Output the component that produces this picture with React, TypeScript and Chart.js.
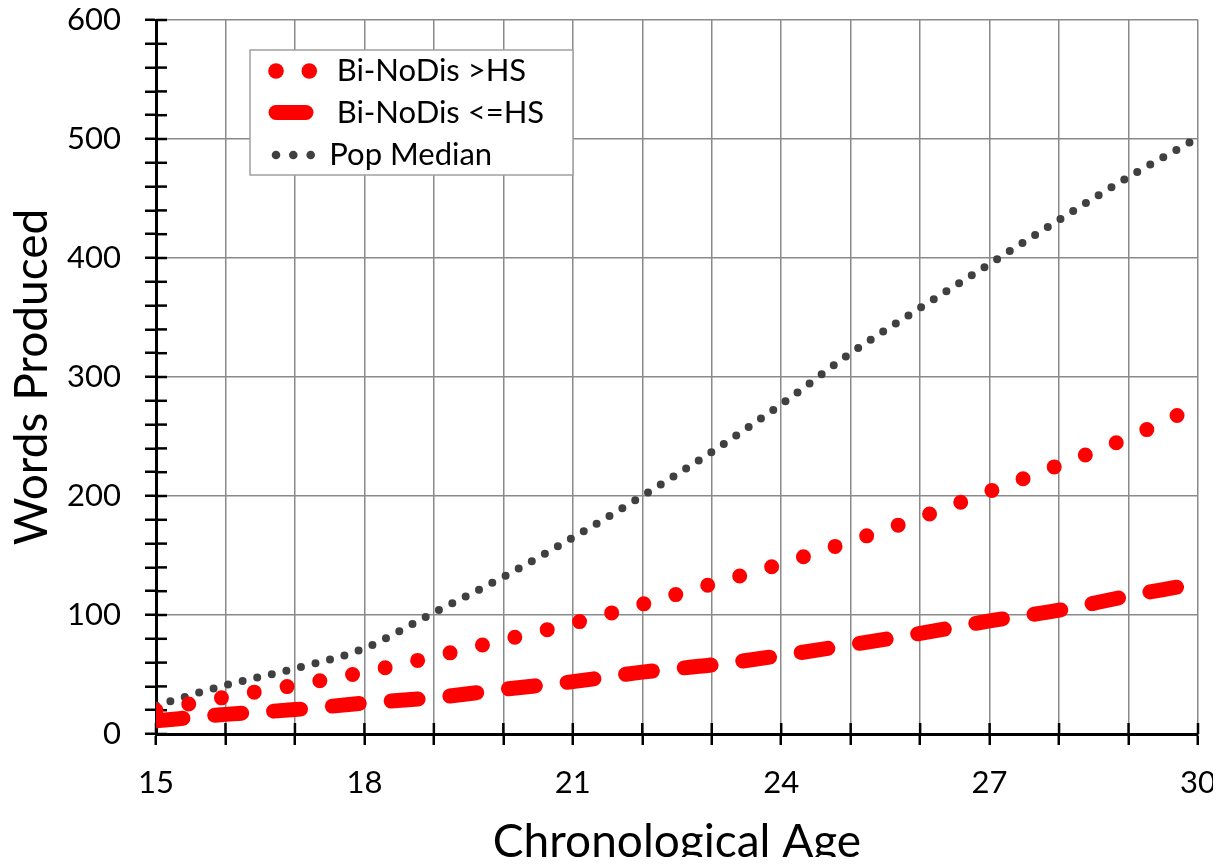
import React, { useEffect, useRef } from 'react';
import { Chart, registerables } from 'chart.js';

Chart.register(...registerables);

// ---- Data ----
const popAges = [15, 16, 17, 18, 19, 20, 21, 22, 23, 24, 25, 26, 27, 28, 29, 30];
const popMedian = [24, 41, 55, 72, 102, 132, 165, 200, 237, 277, 320, 358, 395, 432, 468, 501];

const hsAges = [15, 16, 17, 18, 19, 20, 21, 22, 23, 24, 25, 26, 27, 28, 29, 29.75];
const aboveHS = [20, 31, 41, 52, 65, 79, 93, 109, 126, 143, 162, 182, 204, 226, 249, 269];
const belowHS = [11, 16.5, 20.5, 26, 30.5, 37.5, 44, 52, 58, 66, 75, 84.5, 95, 104, 116, 124];

const seriesNames = ['Bi-NoDis >HS', 'Bi-NoDis <=HS', 'Pop Median'];
const xTickLabels = [15, 18, 21, 24, 27, 30];
const yTickLabels = [0, 100, 200, 300, 400, 500, 600];
const xTitle = 'Chronological Age';
const yTitle = 'Words Produced';

const FONT = 'Lato';
const RED = '#FF0000';
const GRAY_DOT = '#404040';
const GRID = '#8a8a8a';

const W = 1205;
const H = 857;

const toPoints = (xs: number[], ys: number[]) => xs.map((x, i) => ({ x, y: ys[i] }));

const innerTicks = {
  id: 'innerTicks',
  beforeDatasetsDraw(chart: any) {
    const { ctx, chartArea, scales } = chart;
    ctx.save();
    ctx.strokeStyle = '#000';
    ctx.lineWidth = 2.5;
    scales.y.ticks.forEach((t: any) => {
      const py = scales.y.getPixelForValue(t.value);
      ctx.beginPath();
      ctx.moveTo(chartArea.left, py);
      ctx.lineTo(chartArea.left + 11, py);
      ctx.stroke();
    });
    scales.x.ticks.forEach((t: any) => {
      const px = scales.x.getPixelForValue(t.value);
      ctx.beginPath();
      ctx.moveTo(px, chartArea.bottom);
      ctx.lineTo(px, chartArea.bottom - 11);
      ctx.stroke();
    });
    ctx.restore();
  },
};

const boxLegend = {
  id: 'boxLegend',
  afterDatasetsDraw(chart: any) {
    const { ctx } = chart;
    const ds = chart.data.datasets;
    const left = 242, top = 42, right = 565, bottom = 167;
    ctx.save();
    ctx.fillStyle = '#fff';
    ctx.fillRect(left, top, right - left, bottom - top);
    ctx.strokeStyle = '#a0a0a0';
    ctx.lineWidth = 1.5;
    ctx.strokeRect(left, top, right - left, bottom - top);

    const rows = [63, 104.5, 147];
    ctx.fillStyle = ds[0].borderColor;
    [268, 301.3].forEach((cx) => {
      ctx.beginPath();
      ctx.arc(cx, rows[0], 7.8, 0, Math.PI * 2);
      ctx.fill();
    });
    ctx.strokeStyle = ds[1].borderColor;
    ctx.lineWidth = 15;
    ctx.lineCap = 'round';
    ctx.beginPath();
    ctx.moveTo(268, rows[1]);
    ctx.lineTo(298, rows[1]);
    ctx.stroke();
    ctx.fillStyle = ds[2].borderColor;
    [268, 285.3, 302.7].forEach((cx) => {
      ctx.beginPath();
      ctx.arc(cx, rows[2], 4.3, 0, Math.PI * 2);
      ctx.fill();
    });

    ctx.fillStyle = '#000';
    ctx.font = `31px ${FONT}`;
    ctx.textBaseline = 'middle';
    ctx.textAlign = 'left';
    ctx.fillText(ds[0].label, 328.7, rows[0]);
    ctx.fillText(ds[1].label, 328.7, rows[1]);
    ctx.fillText(ds[2].label, 321.3, rows[2]);
    ctx.restore();
  },
};

export default function App() {
  const canvasRef = useRef<HTMLCanvasElement | null>(null);

  useEffect(() => {
    let chart: Chart | null = null;
    let cancelled = false;
    const build = () => {
      if (cancelled || !canvasRef.current) return;
      chart = new Chart(canvasRef.current, {
        type: 'line',
        data: {
          datasets: [
            {
              label: seriesNames[0],
              data: toPoints(hsAges, aboveHS),
              borderColor: RED,
              backgroundColor: RED,
              borderWidth: 15,
              borderDash: [0, 33.3],
              borderCapStyle: 'round',
              pointRadius: 0,
              cubicInterpolationMode: 'monotone',
              fill: false,
            },
            {
              label: seriesNames[1],
              data: toPoints(hsAges, belowHS),
              borderColor: RED,
              backgroundColor: RED,
              borderWidth: 15,
              borderDash: [27, 32],
              borderCapStyle: 'round',
              pointRadius: 0,
              cubicInterpolationMode: 'monotone',
              fill: false,
            },
            {
              label: seriesNames[2],
              data: toPoints(popAges, popMedian),
              borderColor: GRAY_DOT,
              backgroundColor: GRAY_DOT,
              borderWidth: 8,
              borderDash: [0, 15],
              borderCapStyle: 'round',
              pointRadius: 0,
              cubicInterpolationMode: 'monotone',
              fill: false,
            },
          ],
        },
        options: {
          animation: false,
          responsive: false,
          layout: { padding: { top: 12, right: 15, bottom: 0, left: 0 } },
          plugins: {
            legend: { display: false },
            tooltip: { enabled: false },
          },
          scales: {
            x: {
              type: 'linear',
              min: 15,
              max: 30,
              afterFit: (s: any) => {
                s.height = H - 726;
                s.paddingLeft = 0;
                s.paddingRight = 0;
              },
              ticks: {
                stepSize: 1,
                autoSkip: false,
                maxRotation: 0,
                padding: 26,
                color: '#000',
                font: { family: FONT, size: 31, lineHeight: 0.8 },
                callback: (v: any) => (xTickLabels.includes(Number(v)) ? String(v) : ''),
              },
              grid: {
                color: GRID,
                lineWidth: 1.5,
                tickColor: '#000',
                tickLength: 11,
                tickWidth: 2.5,
              },
              border: { color: '#000', width: 3 },
              title: {
                display: true,
                text: xTitle,
                color: '#000',
                font: { family: FONT, size: 46, lineHeight: 1.0 },
                padding: 0,
              },
            },
            y: {
              min: 0,
              max: 600,
              afterFit: (s: any) => {
                s.width = 148;
                s.paddingTop = 0;
                s.paddingBottom = 0;
              },
              ticks: {
                stepSize: 20,
                autoSkip: false,
                padding: 24,
                color: '#000',
                font: { family: FONT, size: 31, lineHeight: 0.8 },
                callback: (v: any) => (yTickLabels.includes(Number(v)) ? String(v) : ''),
              },
              grid: {
                color: (c: any) => (c.tick && c.tick.value % 100 === 0 ? GRID : 'rgba(0,0,0,0)'),
                lineWidth: 1.5,
                tickColor: '#000',
                tickLength: 11,
                tickWidth: 2.5,
              },
              border: { color: '#000', width: 3 },
              title: {
                display: true,
                text: yTitle,
                color: '#000',
                font: { family: FONT, size: 46, lineHeight: 1.0 },
                padding: { top: 1.5, bottom: 0 },
              },
            },
          },
        },
        plugins: [innerTicks, boxLegend],
      } as any);
    };
    const fonts: any = (document as any).fonts;
    if (fonts && fonts.load) {
      Promise.all([fonts.load(`31px ${FONT}`), fonts.load(`46px ${FONT}`)]).then(build, build);
    } else {
      build();
    }
    return () => {
      cancelled = true;
      if (chart) chart.destroy();
    };
  }, []);

  return (
    <canvas
      ref={canvasRef}
      width={W}
      height={H}
      style={{ display: 'block', width: W, height: H, marginBottom: -8 }}
    />
  );
}
